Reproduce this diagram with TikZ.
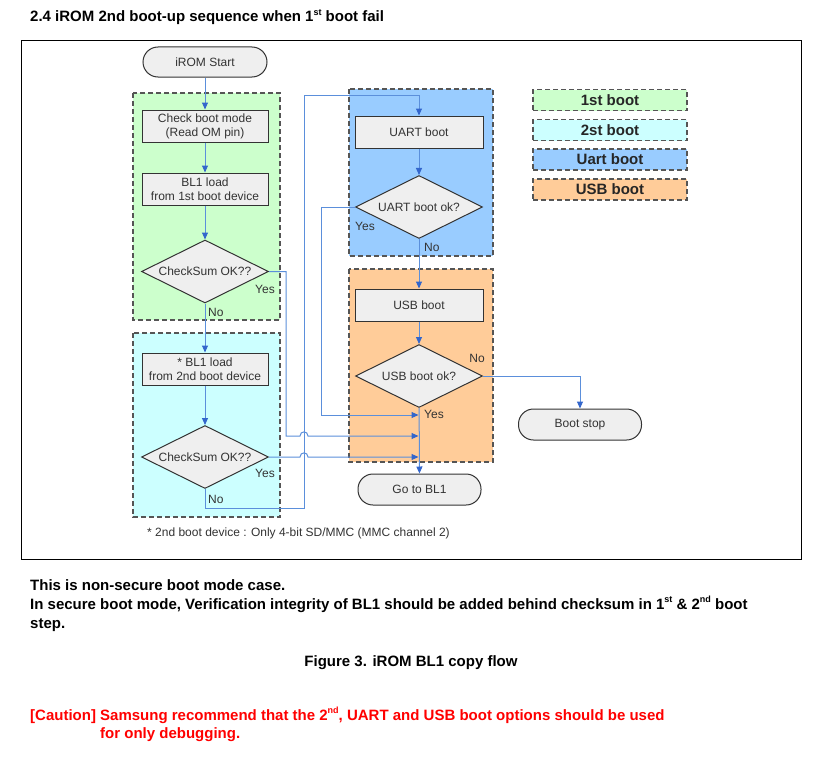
\documentclass[tikz,border=0pt]{standalone}
\usepackage{fontspec}
\setmainfont{Liberation Sans}
\usetikzlibrary{shapes.geometric,arrows.meta,calc}
\definecolor{gfill}{HTML}{CCFFCC}
\definecolor{cfill}{HTML}{CCFFFF}
\definecolor{bfill}{HTML}{99CCFF}
\definecolor{ofill}{HTML}{FFCC99}
\definecolor{nfill}{HTML}{EFEFEF}
\definecolor{ncolor}{HTML}{333333}
\definecolor{lblue}{HTML}{5B8FDB}
\definecolor{ablue}{HTML}{3366CC}
\definecolor{dgray}{HTML}{555555}
\definecolor{cred}{HTML}{FF0000}
\newcommand{\dtext}{\fontsize{12}{14}\selectfont}
\newcommand{\btext}{\fontsize{15}{18}\selectfont\bfseries}
\newcommand{\sups}[1]{\raisebox{0.45em}{\fontsize{9}{10}\selectfont #1}}
\begin{document}
\begin{tikzpicture}[x=1pt,y=-1pt,
  grp/.style={draw=dgray, line width=1.3pt, dash pattern=on 5pt off 3pt},
  proc/.style={draw=ncolor, fill=nfill, line width=1pt, minimum width=126pt, minimum height=32pt, inner sep=0pt, align=center, text=ncolor, font=\dtext},
  term/.style={proc, rounded corners=15pt, minimum width=124pt, minimum height=30pt},
  dec/.style={diamond, draw=ncolor, fill=nfill, line width=1pt, minimum width=127pt, minimum height=63pt, inner sep=0pt, aspect=2, text=ncolor, font=\dtext},
  conn/.style={draw=lblue, line width=1pt},
  arr/.style={conn, -{Triangle[length=7pt,width=6pt,color=ablue]}},
  lbl/.style={font=\dtext, text=ncolor, inner sep=0pt},
  leg/.style={grp, minimum width=154pt, minimum height=21pt, inner sep=0pt, font=\btext, text=black!85},
  txt/.style={font=\btext, inner sep=0pt, anchor=base west}
]
\useasboundingbox (0,0) rectangle (813,768);
\fill[white] (0,0) rectangle (813,768);

% title
\node[txt] (title) at (30,22) {2.4 iROM 2nd boot-up sequence when 1\sups{st} boot fail};

% frame
\draw[black, line width=1pt] (21,41) rectangle (801,559);

% group boxes
\path[grp, fill=gfill] (133,93) rectangle (280,320);
\path[grp, fill=cfill] (133,333) rectangle (280,517);
\path[grp, fill=bfill] (349,89) rectangle (493,256);
\path[grp, fill=ofill] (349,269) rectangle (493,462);

% legend
\node[leg, fill=gfill] (l1) at (610,100) {1st boot};
\node[leg, fill=cfill] (l2) at (610,130) {2st boot};
\node[leg, fill=bfill] (l3) at (610,159.5) {Uart boot};
\node[leg, fill=ofill] (l4) at (610,189.5) {USB boot};

% nodes
\node[term] (start) at (205,62) {iROM Start};
\node[proc] (check) at (205,126) {Check boot mode\\(Read OM pin)};
\node[proc] (load1) at (205,189) {BL1 load\\from 1st boot device};
\node[dec] (cs1) at (205,271.5) {CheckSum OK??};
\node[proc] (load2) at (205,369) {* BL1 load\\from 2nd boot device};
\node[dec] (cs2) at (205,457) {CheckSum OK??};
\node[proc, minimum width=128pt] (uart) at (419,132) {UART boot};
\node[dec] (uartok) at (419,207) {UART boot ok?};
\node[proc, minimum width=128pt] (usb) at (419,305) {USB boot};
\node[dec] (usbok) at (419,376) {USB boot ok?};
\node[term, minimum width=123pt, minimum height=31pt] (stop) at (580,424.5) {Boot stop};
\node[term, minimum width=123pt, minimum height=31pt] (gobl) at (419.5,489.5) {Go to BL1};

% join points on main line
\coordinate (in1) at (418.5,415);
\coordinate (in2) at (418.5,436);
\coordinate (in3) at (418.5,457);

% connectors
\draw[arr] (start) -- (check);
\draw[arr] (check) -- (load1);
\draw[arr] (load1) -- (cs1);
\draw[arr] (cs1) -- (load2);
\draw[arr] (load2) -- (cs2);
\draw[arr] (uart) -- (uartok);
\draw[arr] (uartok) -- (usb);
\draw[arr] (usb) -- (usbok);
\draw[arr] (usbok) -- (gobl);
\draw[arr] (usbok.east) -| (stop.north);
\draw[arr] (uartok.west) -- ++(-34,0) |- (in1);
\draw[arr] (cs2.south) |- (304,508) -- (304,95) -| (uart.north);
\draw[arr] (cs1.east) -| (286,436) -- (300,436) .. controls (300,430.5) and (308,430.5) .. (308,436) -- (in2);
\draw[arr] (cs2.east) -- (300,457) .. controls (300,451.5) and (308,451.5) .. (308,457) -- (in3);

% labels
\node[lbl] (yes1) at (265,289) {Yes};
\node[lbl, anchor=west] (no1) at (208,312) {No};
\node[lbl] (yes2) at (265,473) {Yes};
\node[lbl, anchor=west] (no2) at (208,499) {No};
\node[lbl] (yes3) at (365,226) {Yes};
\node[lbl, anchor=west] (no3) at (424,247) {No};
\node[lbl] (no4) at (477,358) {No};
\node[lbl, anchor=west] (yes4) at (424,414) {Yes};

% footnote
\node[lbl] (foot) at (298.5,533) {* 2nd boot device : Only 4-bit SD/MMC (MMC channel 2)};

% bottom text
\node[txt] (t1) at (30,590) {This is non-secure boot mode case.};
\node[txt] (t2) at (30,609) {In secure boot mode, Verification integrity of BL1 should be added behind checksum in 1\sups{st} \& 2\sups{nd} boot};
\node[txt] (t3) at (30,628) {step.};
\node[font=\btext, inner sep=0pt, anchor=base] (fig) at (411,666) {Figure 3. iROM BL1 copy flow};
\node[txt, text=cred] (c1) at (30,720) {[Caution] Samsung recommend that the 2\sups{nd}, UART and USB boot options should be used};
\node[txt, text=cred] (c2) at (100,738) {for only debugging.};
\end{tikzpicture}
\end{document}
